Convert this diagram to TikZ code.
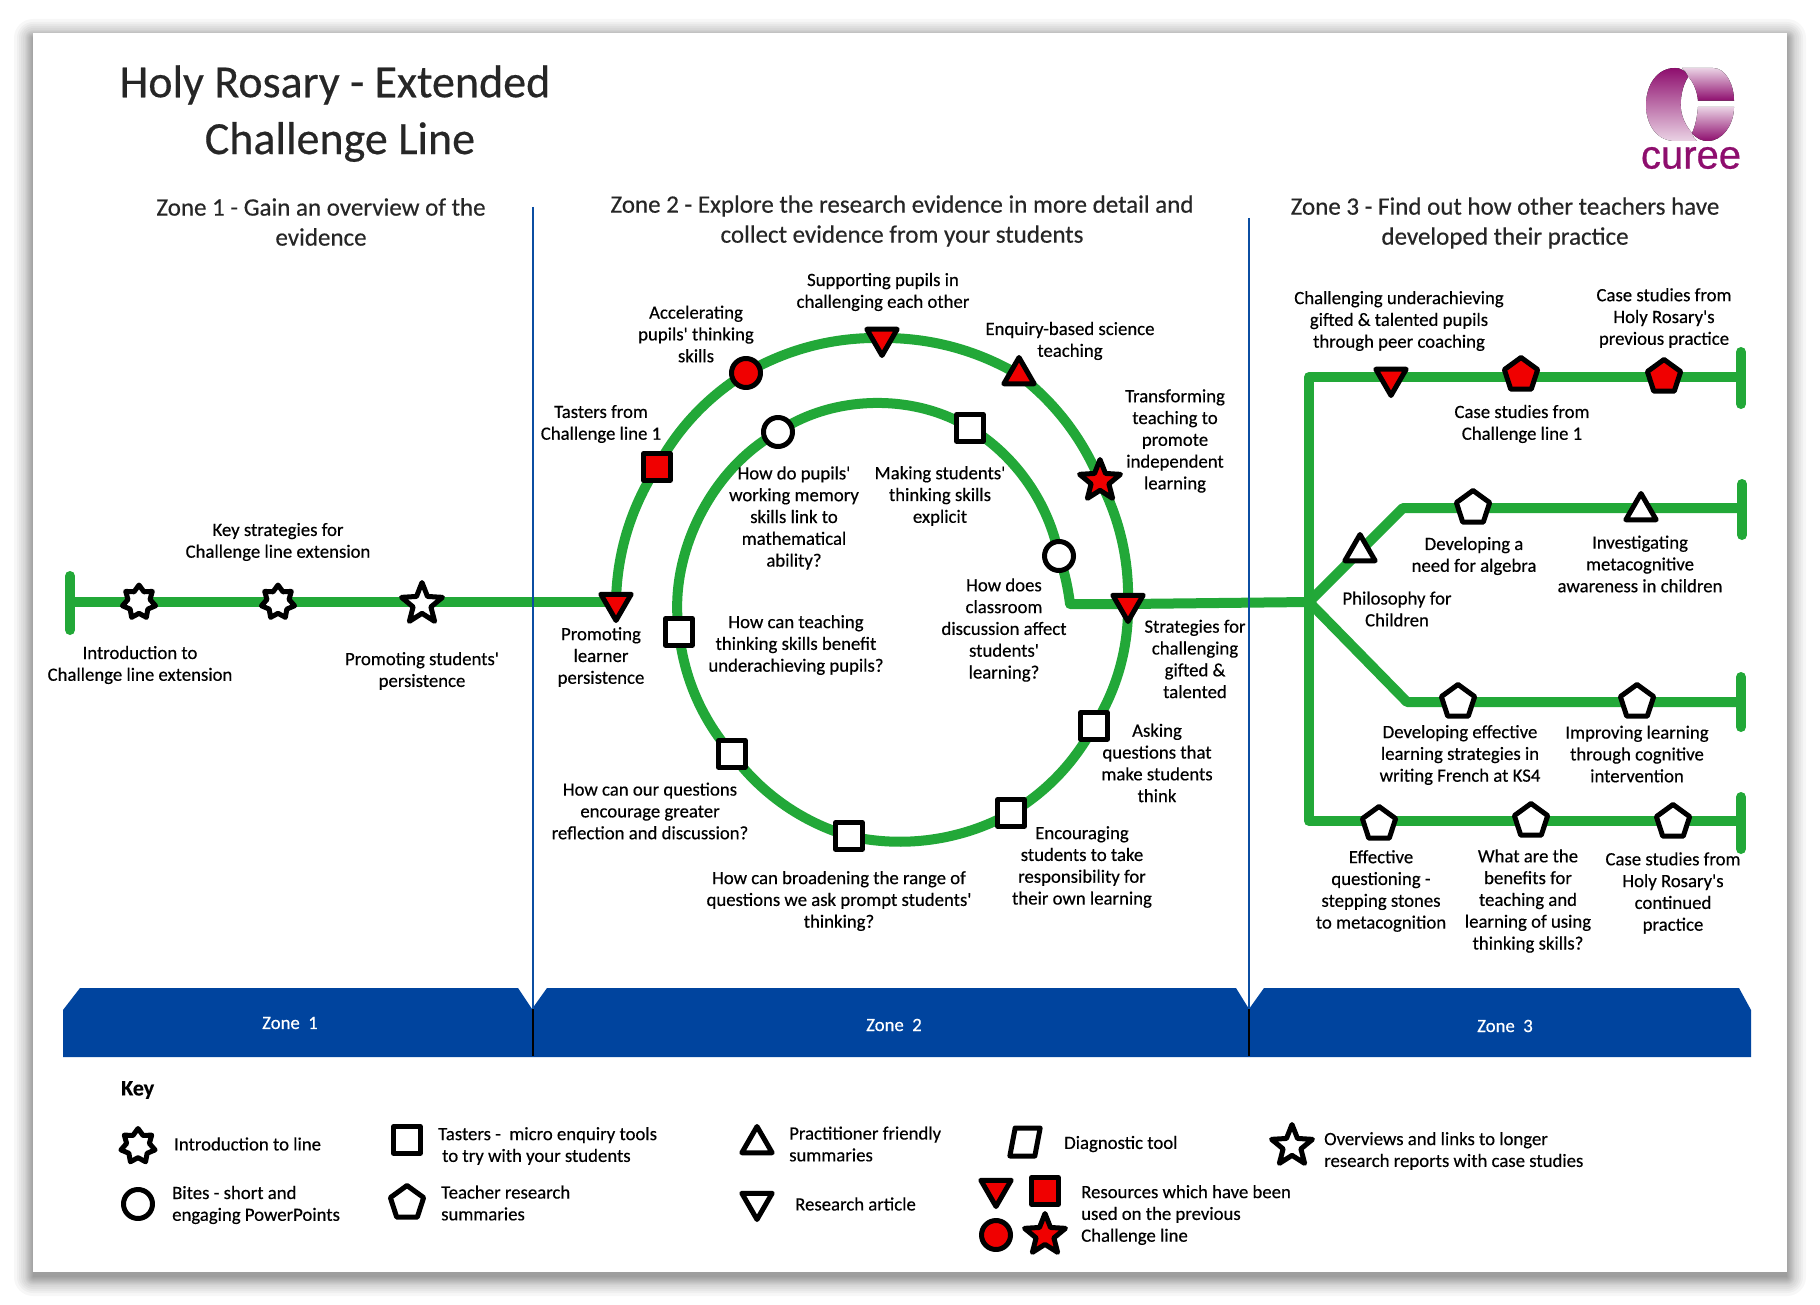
\documentclass[tikz,border=0pt]{standalone}
\usepackage{fontspec}
\setmainfont{Carlito}[Ligatures=TeXOff,FakeBold=0.4]
\newfontfamily\logofont{Liberation Sans}[FakeBold=0.6]
\usetikzlibrary{shapes.geometric}
\pgfdeclarelayer{back}\pgfdeclarelayer{lines}
\pgfsetlayers{back,lines,main}
\definecolor{tubegreen}{HTML}{22A838}
\definecolor{bandblue}{HTML}{00449E}
\definecolor{rulerblue}{HTML}{0B4EA2}
\definecolor{mkred}{HTML}{F00000}
\definecolor{cureedark}{HTML}{8E0E6E}
\definecolor{cureelight}{HTML}{EAD2E4}
\tikzset{
  mk/.style={draw=black,line width=5pt,line join=round,fill=#1,inner sep=0pt,outer sep=0pt},
  mk/.default=white,
  sq/.style={mk=#1,rectangle,minimum size=26.5pt},
  sq/.default=white,
  cir/.style={mk=#1,circle,minimum size=29pt},
  cir/.default=white,
  pent/.style={mk=#1,regular polygon,regular polygon sides=5,minimum size=35pt},
  pent/.default=white,
  triup/.style={mk=#1,regular polygon,regular polygon sides=3,minimum size=35pt},
  triup/.default=white,
  tridn/.style={mk=#1,regular polygon,regular polygon sides=3,shape border rotate=180,minimum size=35pt},
  tridn/.default=white,
  starfive/.style={mk=#1,star,star points=5,star point ratio=2.3,minimum size=43pt},
  starfive/.default=white,
  starseven/.style={mk=white,star,star points=7,star point ratio=1.5,minimum size=34pt},
  tube/.style={draw=tubegreen,line width=10pt,line join=round},
  endbar/.style={draw=tubegreen,line width=10pt,line cap=round},
  lbl/.style={align=center,inner sep=0pt,text=black,font=\fontsize{18.75}{21.8}\selectfont},
  leg/.style={align=left,anchor=west,inner sep=0pt,text=black,font=\fontsize{18.75}{21.8}\selectfont},
  head/.style={align=center,inner sep=0pt,text=black!85,font=\fontsize{25}{30}\selectfont},
  ttl/.style={inner sep=0pt,text=black!85,font=\fontsize{46}{50}\selectfont},
  zonelbl/.style={inner sep=0pt,text=white,font=\fontsize{18.75}{21.8}\selectfont},
  ruler/.style={draw=rulerblue,line width=2pt},
  blackrule/.style={draw=black,line width=2pt},
  rg/.style={bend left=#1,looseness=.88},
}
\begin{document}
\begin{tikzpicture}[x=1pt,y=-1pt]
\useasboundingbox (0,0) rectangle (1820,1305);
\begin{pgfonlayer}{back}
  \fill[white] (0,0) rectangle (1820,1305);
  \foreach \i in {19,16,14,12,10,8,7,6,5,4,3,2,1,0}{
    \fill[black,opacity=.03,rounded corners=\i pt] ({33-\i},{38-\i}) rectangle ({1787+\i},{1277+\i});
  }
  \fill[white] (33,33) rectangle (1787,1272);
\end{pgfonlayer}

% titles
\node[ttl] (title1) at (335,85) {Holy Rosary - Extended};
\node[ttl] (title2) at (340,142) {Challenge Line};
\node[head] (h1) at (321,222) {Zone 1 - Gain an overview of the\\evidence};
\node[head] (h2) at (902,221) {Zone 2 - Explore the research evidence in more detail and\\collect evidence from your students};
\node[head] (h3) at (1505,223) {Zone 3 - Find out how other teachers have\\developed their practice};

% logo
\fill[top color=cureedark,bottom color=cureelight] (1675,68) .. controls (1657,68) and (1646,85) .. (1646,105) .. controls (1646,125) and (1657,141) .. (1675,141) -- (1697,141) .. controls (1694,139) and (1693,136) .. (1692,133) .. controls (1685,125) and (1680.7,115) .. (1680.7,105) .. controls (1680.7,93) and (1684,83) .. (1688.3,76.7) .. controls (1686,71) and (1681,68) .. (1675,68) -- cycle;
\fill[top color=cureelight,bottom color=cureedark] (1682,68) -- (1713,68) .. controls (1726,68) and (1734,85) .. (1734,100.7) -- (1698,100.7) .. controls (1697,90) and (1693,82) .. (1688.3,76.7) .. controls (1686,72) and (1684,69) .. (1682,68) -- cycle;
\fill[top color=cureelight,bottom color=cureedark] (1734,107) -- (1698,107) .. controls (1697,118) and (1695,127) .. (1692,133) .. controls (1697,139) and (1702,141) .. (1708,141) .. controls (1722,141) and (1734,125) .. (1734,107) -- cycle;
\node[inner sep=0pt,text=cureedark,font=\logofont\fontsize{40}{40}\selectfont] (logo) at (1691,158) {curee};

% rulers and band
\fill[bandblue] (63,1057) -- (63,1010) -- (80,988) -- (518,988) -- (532,1009) -- (547,988) -- (1236,988) -- (1249,1009) -- (1264,988) -- (1739,988) -- (1751,1010) -- (1751,1057) -- cycle;
\coordinate (r1a) at (533,207); \coordinate (r1b) at (533,1009); \coordinate (r1c) at (533,1056);
\coordinate (r2a) at (1249,218); \coordinate (r2b) at (1249,1009); \coordinate (r2c) at (1249,1056);
\draw[ruler] (r1a) -- (r1b); \draw[blackrule] (r1b) -- (r1c);
\draw[ruler] (r2a) -- (r2b); \draw[blackrule] (r2b) -- (r2c);
\node[zonelbl] (z1) at (290,1023) {Zone\ \ 1};
\node[zonelbl] (z2) at (894,1025) {Zone\ \ 2};
\node[zonelbl] (z3) at (1505,1026) {Zone\ \ 3};

% line coordinates
\coordinate (bar1a) at (70,576); \coordinate (bar1b) at (70,630); \coordinate (s0) at (70,602);
\coordinate (innerCorner) at (1070,604);
\coordinate (hub) at (1309,602);
\coordinate (l1start) at (1309,377); \coordinate (l1end) at (1741,377);
\coordinate (e1a) at (1741,352); \coordinate (e1b) at (1741,404);
\coordinate (l2bend) at (1403,508); \coordinate (l2end) at (1742,508);
\coordinate (e2a) at (1742,484); \coordinate (e2b) at (1742,535);
\coordinate (l3bend) at (1407,702); \coordinate (l3end) at (1741,702);
\coordinate (e3a) at (1741,677); \coordinate (e3b) at (1741,727);
\coordinate (l4start) at (1309,821); \coordinate (l4end) at (1741,821);
\coordinate (e4a) at (1741,797); \coordinate (e4b) at (1741,849);

% stations zone 1
\node[starseven] (a1) at (139,602) {};
\node[starseven] (a2) at (278,602) {};
\node[starfive] (a3) at (422,604) {};
% outer ring
\node[tridn=mkred] (b1) at (616,603) {};
\node[sq=mkred] (b2) at (657,467) {};
\node[cir=mkred] (b3) at (746,373) {};
\node[tridn=mkred] (b4) at (882,338) {};
\node[triup=mkred] (b5) at (1019,375) {};
\node[starfive=mkred] (b6) at (1100,481) {};
\node[tridn=mkred] (b7) at (1128,604) {};
\node[sq] (c1) at (1094,726) {};
\node[sq] (c2) at (1011,813) {};
\node[sq] (c3) at (849,836) {};
\node[sq] (c4) at (732,754) {};
\node[sq] (c5) at (679,632) {};
\node[cir] (c6) at (778,432) {};
\node[sq] (c7) at (970,428) {};
\node[cir] (c8) at (1059,556) {};
% zone 3
\node[tridn=mkred] (d1) at (1391,378) {};
\node[pent=mkred] (d2) at (1521,375) {};
\node[pent=mkred] (d3) at (1664,377) {};
\node[triup] (e1) at (1360,552) {};
\node[pent] (e2) at (1473,508) {};
\node[triup] (e3) at (1641,511) {};
\node[pent] (f1) at (1458,702) {};
\node[pent] (f2) at (1637,702) {};
\node[pent] (g1) at (1379,824) {};
\node[pent] (g2) at (1531,821) {};
\node[pent] (g3) at (1673,822) {};

% connectors
\begin{pgfonlayer}{lines}
\draw[endbar] (bar1a) -- (bar1b);
\draw[tube] (s0) -- (a1 |- s0) -- (a2 |- s0) -- (a3 |- s0) -- (b1 |- s0) -- (b1.center);
\draw[tube] (b1.center) to[rg=16] (b2.center) to[rg=15] (b3.center) to[rg=15.5] (b4.center) to[rg=15.5] (b5.center) to[rg=15] (b6.center) to[rg=14.5] (b7.center)
  to[rg=16.5] (c1.center) to[rg=15.5] (c2.center) to[rg=21] (c3.center) to[rg=18.5] (c4.center) to[rg=17.5] (c5.center)
  to[rg=35] (c6.center) to[rg=33] (c7.center) to[rg=24] (c8.center) to[rg=6] (innerCorner) -- (b7.center) -- (hub);
\draw[tube] (l1end) -- (d3 |- l1end) -- (d2 |- l1end) -- (d1 |- l1end) -- (l1start) -- (hub) -- (l4start) -- (g1 |- l4start) -- (g2 |- l4start) -- (g3 |- l4start) -- (l4end);
\draw[tube] (hub) -- (l2bend) -- (e2 |- l2bend) -- (e3 |- l2bend) -- (l2end);
\draw[tube] (hub) -- (l3bend) -- (f1 |- l3bend) -- (f2 |- l3bend) -- (l3end);
\draw[endbar] (e1a) -- (e1b);
\draw[endbar] (e2a) -- (e2b);
\draw[endbar] (e3a) -- (e3b);
\draw[endbar] (e4a) -- (e4b);
\end{pgfonlayer}

% labels
\node[lbl] (t1) at (278,542) {Key strategies for\\Challenge line extension};
\node[lbl] (t2) at (140,665) {Introduction to\\Challenge line extension};
\node[lbl] (t3) at (422,671) {Promoting students'\\persistence};
\node[lbl] (t4) at (601,657) {Promoting\\learner\\persistence};
\node[lbl] (t5) at (601,424) {Tasters from\\Challenge line 1};
\node[lbl] (t6) at (696,334) {Accelerating\\pupils' thinking\\skills};
\node[lbl] (t7) at (883,292) {Supporting pupils in\\challenging each other};
\node[lbl] (t8) at (1070,341) {Enquiry-based science\\teaching};
\node[lbl] (t9) at (1175,441) {Transforming\\teaching to\\promote\\independent\\learning};
\node[lbl] (t10) at (1195,659) {Strategies for\\challenging\\gifted \&\\talented};
\node[lbl] (t11) at (1157,763) {Asking\\questions that\\make students\\think};
\node[lbl] (t12) at (1082,867) {Encouraging\\students to take\\responsibility for\\their own learning};
\node[lbl] (t13) at (839,901) {How can broadening the range of\\questions we ask prompt students'\\thinking?};
\node[lbl] (t14) at (650,811) {How can our questions\\encourage greater\\reflection and discussion?};
\node[lbl] (t15) at (796,645) {How can teaching\\thinking skills benefit\\underachieving pupils?};
\node[lbl] (t16) at (794,518) {How do pupils'\\working memory\\skills link to\\mathematical\\ability?};
\node[lbl] (t17) at (940,496) {Making students'\\thinking skills\\explicit};
\node[lbl] (t18) at (1004,630) {How does\\classroom\\discussion affect\\students'\\learning?};
\node[lbl] (t19) at (1399,321) {Challenging underachieving\\gifted \& talented pupils\\through peer coaching};
\node[lbl] (t20) at (1664,318) {Case studies from\\Holy Rosary's\\previous practice};
\node[lbl] (t21) at (1522,424) {Case studies from\\Challenge line 1};
\node[lbl] (t22) at (1474,556) {Developing a\\need for algebra};
\node[lbl] (t23) at (1640,564) {Investigating\\metacognitive\\awareness in children};
\node[lbl] (t24) at (1397,609) {Philosophy for\\Children};
\node[lbl] (t25) at (1460,755) {Developing effective\\learning strategies in\\writing French at KS4};
\node[lbl] (t26) at (1637,754) {Improving learning\\through cognitive\\intervention};
\node[lbl] (t27) at (1381,891) {Effective\\questioning -\\stepping stones\\to metacognition};
\node[lbl] (t28) at (1528,901) {What are the\\benefits for\\teaching and\\learning of using\\thinking skills?};
\node[lbl] (t29) at (1673,893) {Case studies from\\Holy Rosary's\\continued\\practice};

% key
\node[leg,font=\bfseries\fontsize{22}{24}\selectfont] (keyt) at (121,1090) {Key};
\node[starseven,minimum size=35pt] (k1) at (138,1146) {};
\node[leg] (k1t) at (174,1144) {Introduction to line};
\node[cir] (k2) at (138,1204) {};
\node[leg] (k2t) at (172,1205) {Bites - short and\\engaging PowerPoints};
\node[sq] (k3) at (407,1140) {};
\node[leg] (k3t) at (438,1146) {Tasters -\ \ micro enquiry tools\\\hspace*{4pt}to try with your students};
\node[pent] (k4) at (407,1203) {};
\node[leg] (k4t) at (441,1203) {Teacher research\\summaries};
\node[triup] (k5) at (757,1144) {};
\node[leg] (k5t) at (789,1144) {Practitioner friendly\\summaries};
\node[tridn] (k6) at (757,1202) {};
\node[leg] (k6t) at (795,1204) {Research article};
\node[mk,rectangle,minimum width=25pt,minimum height=28pt,xslant=.19,transform shape] (k7) at (1025,1142) {};
\node[leg] (k7t) at (1064,1144) {Diagnostic tool};
\node[starfive] (k8) at (1292,1146) {};
\node[leg] (k8t) at (1324,1151) {Overviews and links to longer\\research reports with case studies};
\node[tridn=mkred] (k9) at (996,1189) {};
\node[sq=mkred] (k10) at (1045,1191) {};
\node[cir=mkred] (k11) at (996,1235) {};
\node[starfive=mkred] (k12) at (1045,1235) {};
\node[leg] (k9t) at (1081,1215) {Resources which have been\\used on the previous\\Challenge line};
\end{tikzpicture}
\end{document}
